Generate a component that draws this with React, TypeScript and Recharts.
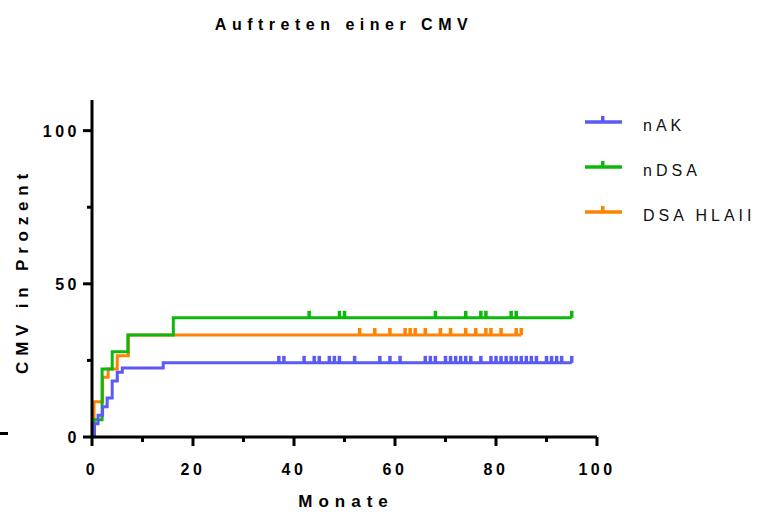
import React from 'react';
import { ComposedChart, Line, Scatter, XAxis, YAxis } from 'recharts';

// Kaplan-Meier steps: month of event and cumulative percent after it
const nakMonths = [0, 0.5, 1.2, 2.1, 3.0, 4.0, 5.0, 6.0, 14.1, 95];
const nakPercent = [0, 4.3, 7.1, 9.9, 12.7, 18.3, 21.1, 22.5, 24.2, 24.2];
const nakCensored = [37, 38, 42, 44, 45, 47, 48, 49, 52, 57, 59, 61, 66, 67, 68, 70, 71, 72, 73, 74, 75, 77, 79, 80, 81, 82, 83, 84, 85, 86, 87, 88, 90, 91, 92, 93, 95];

const ndsaMonths = [0, 0.4, 2.0, 4.0, 7.1, 16.1, 95];
const ndsaPercent = [0, 5.6, 22.2, 27.8, 33.3, 38.9, 38.9];
const ndsaCensored = [43, 49, 50, 68, 74, 77, 78, 83, 84, 95];

const hlaMonths = [0, 0.4, 2.1, 3.2, 5.0, 7.2, 85];
const hlaPercent = [0, 11.5, 19.5, 22.2, 26.5, 33.3, 33.3];
const hlaCensored = [53, 56, 59, 62, 63, 64, 66, 69, 71, 74, 76, 78, 79, 81, 84, 85];

const seriesNames = ['nAK', 'nDSA', 'DSA HLAII'];
const seriesColors = ['#5a5af4', '#0cb80c', '#ff8200'];

const xTicks = [0, 10, 20, 30, 40, 50, 60, 70, 80, 90, 100];
const yTicks = [0, 25, 50, 75, 100];

const FONT = '"Liberation Sans", Arial, sans-serif';

const toSteps = (months: number[], percent: number[]) =>
  months.map((m, i) => ({ x: m, y: percent[i] }));

const valueAt = (months: number[], percent: number[], t: number) => {
  let v = percent[0];
  months.forEach((m, i) => {
    if (m <= t) v = percent[i];
  });
  return v;
};

const toCensor = (months: number[], percent: number[], cens: number[]) =>
  cens.map((c) => ({ x: c, y: valueAt(months, percent, c) }));

const series = [
  { name: seriesNames[0], color: seriesColors[0], steps: toSteps(nakMonths, nakPercent), cens: toCensor(nakMonths, nakPercent, nakCensored) },
  { name: seriesNames[1], color: seriesColors[1], steps: toSteps(ndsaMonths, ndsaPercent), cens: toCensor(ndsaMonths, ndsaPercent, ndsaCensored) },
  { name: seriesNames[2], color: seriesColors[2], steps: toSteps(hlaMonths, hlaPercent), cens: toCensor(hlaMonths, hlaPercent, hlaCensored) },
];

const XTick = (props: any) => {
  const { x, y, payload } = props;
  const major = payload.value % 20 === 0;
  return (
    <g>
      <line x1={x} x2={x} y1={y} y2={y + (major ? 9 : 5)} stroke="#000" strokeWidth={3} />
      {major && (
        <text x={x} y={y + 38} textAnchor="middle" fontFamily={FONT} fontWeight="bold" fontSize={16} letterSpacing={3.5} fill="#000">
          {payload.value}
        </text>
      )}
    </g>
  );
};

const YTick = (props: any) => {
  const { x, y, payload } = props;
  const major = payload.value % 50 === 0;
  return (
    <g>
      <line x1={x - (major ? 9 : 5)} x2={x} y1={y} y2={y} stroke="#000" strokeWidth={3} />
      {major && (
        <text x={x - 12} y={y + 6} textAnchor="end" fontFamily={FONT} fontWeight="bold" fontSize={16} letterSpacing={3.5} fill="#000">
          {payload.value}
        </text>
      )}
    </g>
  );
};

const CensorMark = (color: string) => (props: any) => {
  const { cx, cy } = props;
  return <rect x={cx - 1.75} y={cy - 7} width={3.5} height={7} fill={color} />;
};

export default function App() {
  const drawOrder = [2, 1, 0];
  return (
    <div style={{ position: 'absolute', left: 0, top: 0, width: 771, height: 512, background: '#fff' }}>
      <ComposedChart width={771} height={512} margin={{ top: 100, right: 174, bottom: 35, left: 32 }}>
        <XAxis
          type="number"
          dataKey="x"
          domain={[0, 100]}
          ticks={xTicks}
          height={40}
          tickSize={0}
          tickMargin={0}
          tickLine={false}
          tick={<XTick />}
          axisLine={{ stroke: '#000', strokeWidth: 3 }}
          allowDataOverflow
        />
        <YAxis
          type="number"
          dataKey="y"
          domain={[0, 110]}
          ticks={yTicks}
          width={60}
          tickSize={0}
          tickMargin={0}
          tickLine={false}
          tick={<YTick />}
          axisLine={{ stroke: '#000', strokeWidth: 3 }}
          allowDataOverflow
        />
        {drawOrder.map((i) => (
          <Line
            key={`line-${i}`}
            data={series[i].steps}
            dataKey="y"
            type="stepAfter"
            stroke={series[i].color}
            strokeWidth={3}
            dot={false}
            activeDot={false}
            isAnimationActive={false}
          />
        ))}
        {drawOrder.map((i) => (
          <Scatter
            key={`cens-${i}`}
            data={series[i].cens}
            dataKey="y"
            fill={series[i].color}
            shape={CensorMark(series[i].color)}
            isAnimationActive={false}
          />
        ))}
      </ComposedChart>
      <svg width={771} height={512} style={{ position: 'absolute', left: 0, top: 0, pointerEvents: 'none' }}>
        <text x={344} y={30} textAnchor="middle" fontFamily={FONT} fontWeight="bold" fontSize={16} letterSpacing={5.5} fill="#000">
          Auftreten einer CMV
        </text>
        <text
          x={0}
          y={0}
          transform="translate(28, 271) rotate(-90)"
          textAnchor="middle"
          fontFamily={FONT}
          fontWeight="bold"
          fontSize={17}
          letterSpacing={5.8}
          fill="#000"
        >
          CMV in Prozent
        </text>
        <text x={346} y={507} textAnchor="middle" fontFamily={FONT} fontWeight="bold" fontSize={17} letterSpacing={6}>
          Monate
        </text>
        <rect x={0} y={432} width={8} height={3} fill="#000" />
        {series.map((s, i) => (
          <g key={s.name} transform={`translate(580, ${108 + i * 45})`}>
            <line x1={5} x2={42} y1={14} y2={14} stroke={s.color} strokeWidth={3.5} />
            <rect x={21} y={8} width={3.5} height={7} fill={s.color} />
            <text x={63} y={23} fontFamily={FONT} fontSize={16} letterSpacing={4} fill="#111">
              {s.name}
            </text>
          </g>
        ))}
      </svg>
    </div>
  );
}
